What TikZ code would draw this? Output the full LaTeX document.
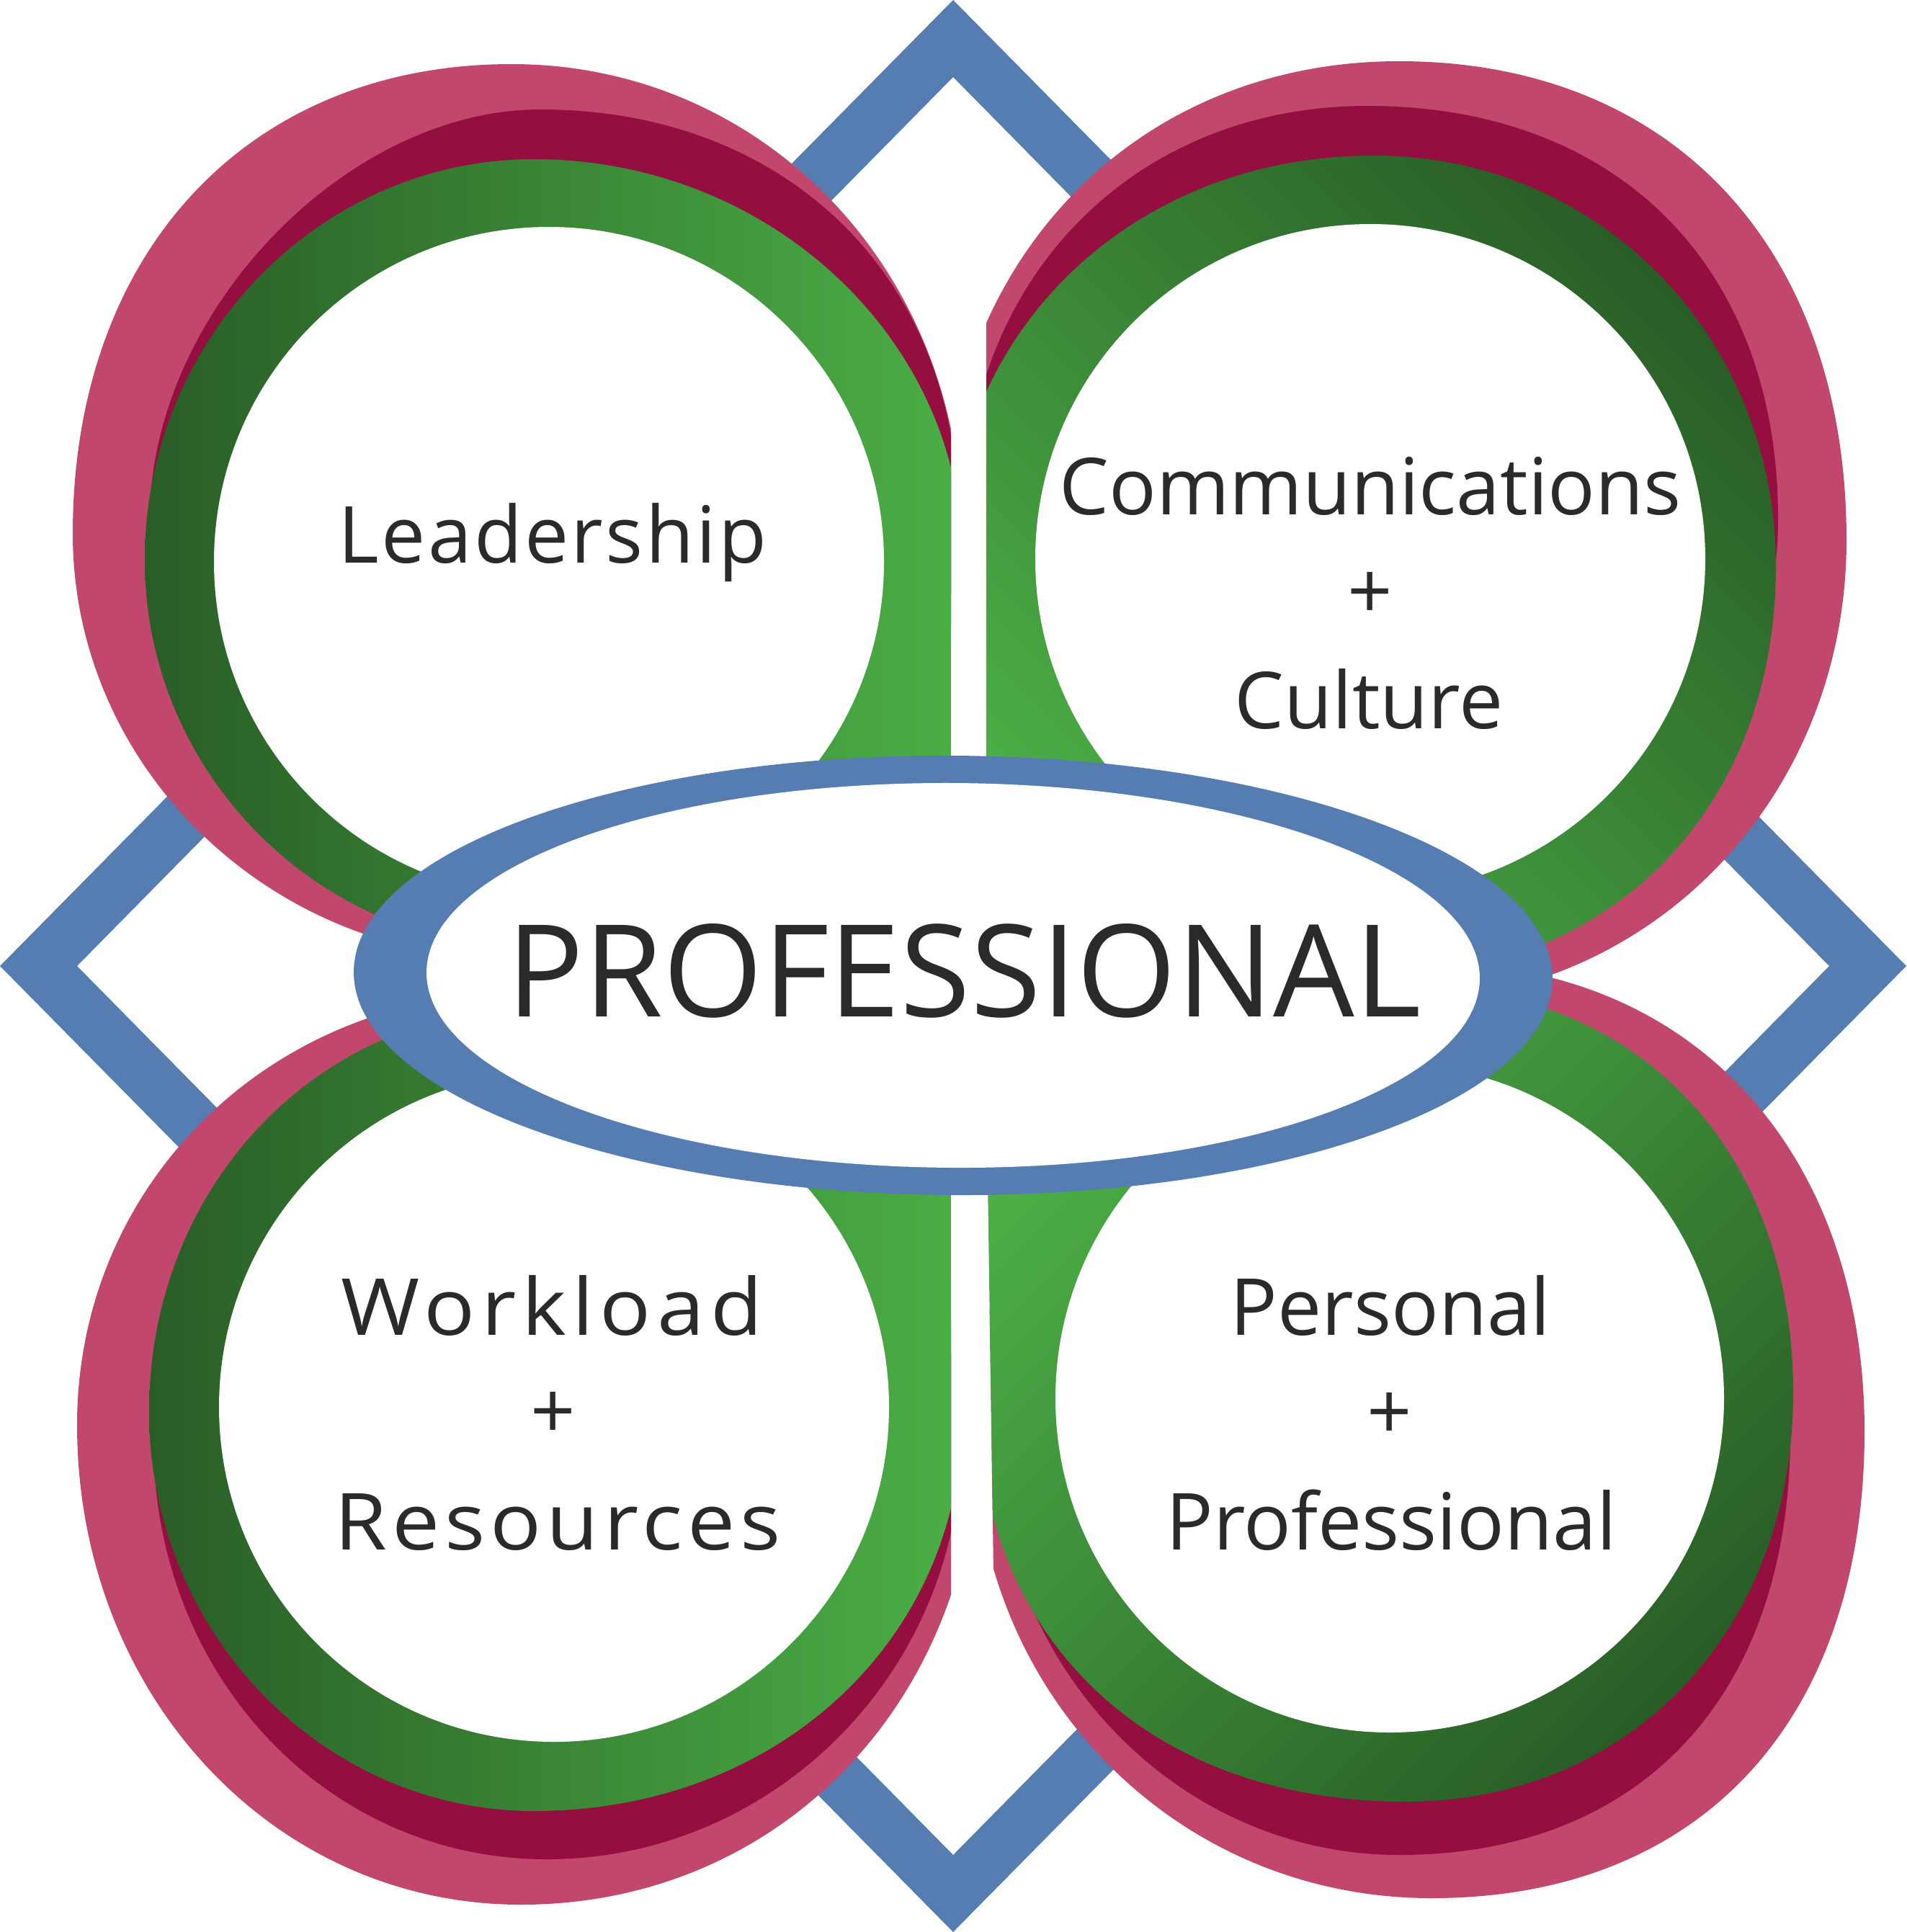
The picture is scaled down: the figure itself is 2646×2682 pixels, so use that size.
\documentclass[tikz,border=0pt]{standalone}
\usepackage{fontspec}
\setmainfont{Open Sans}
\definecolor{dblue}{HTML}{557DB2}
\definecolor{pinkc}{HTML}{C1476C}
\definecolor{crim}{HTML}{940E40}
\definecolor{gdark}{HTML}{295D26}
\definecolor{glight}{HTML}{4BAF46}
\definecolor{txt}{HTML}{2B2A29}
% quadrant-ellipse: centre (#1,#2), extents right #3, top #4, left #5, bottom #6
\newcommand\ks[4]{\def\ka{#1}\def\kb{#2}\def\kc{#3}\def\kd{#4}}
\newcommand\qe[6]{({#1+#3},{#2}) .. controls ({#1+#3},{#2-\ka*#4}) and ({#1+\ka*#3},{#2-#4}) .. ({#1},{#2-#4})
 .. controls ({#1-\kb*#5},{#2-#4}) and ({#1-#5},{#2-\kb*#4}) .. ({#1-#5},{#2})
 .. controls ({#1-#5},{#2+\kc*#6}) and ({#1-\kc*#5},{#2+#6}) .. ({#1},{#2+#6})
 .. controls ({#1+\kd*#3},{#2+#6}) and ({#1+#3},{#2+\kd*#6}) .. ({#1+#3},{#2}) -- cycle}
\begin{document}
\begin{tikzpicture}[x=0.5pt,y=-0.5pt,
  lbl/.style={anchor=base,text=txt,inner sep=0pt,font=\fontsize{54.6}{60}\selectfont},
  big/.style={anchor=base,text=txt,inner sep=0pt,font=\fontsize{89}{96}\selectfont}]
\useasboundingbox (0,0) rectangle (2646,2682);
\fill[white] (0,0) rectangle (2646,2682);
% blue diamond frame
\fill[dblue,even odd rule] (1323,0) -- (2646,1341) -- (1323,2682) -- (0,1341) -- cycle
  (1323,107) -- (2539,1341) -- (1323,2575) -- (107,1341) -- cycle;

% ---------- top-left petal
\begin{scope}
\clip (0,0) rectangle (1320,1400);
\ks{.56}{.6}{.55}{.55}
\fill[pinkc] \qe{710}{741}{625}{652}{609}{590};
\ks{.59}{.5}{.55}{.55}
\fill[crim] \qe{750}{720}{580}{568}{542}{560};
\ks{.55}{.55}{.55}{.55}
\shade[left color=gdark,right color=glight] \qe{741}{777}{595}{556}{540}{540}
  (741,777) -- (741,1360) -- (1320,1360) -- (1320,777) -- cycle;
\fill[white] (762,780) circle[radius=232.5pt];
\end{scope}

% ---------- top-right petal
\begin{scope}
\clip (1369,0) rectangle (2646,1400);
\ks{.61}{.58}{.55}{.56}
\fill[pinkc] \qe{1942}{750}{621}{665}{635}{640};
\ks{.61}{.58}{.55}{.55}
\fill[crim] \qe{1898}{720}{570}{573}{560}{560};
\ks{.56}{.57}{.55}{.59}
\shade[top color=gdark,bottom color=glight,shading angle=-45] \qe{1907}{786}{558}{570}{590}{570}
  (1369,786) -- (1369,1360) -- (1907,1360) -- (1907,786) -- cycle;
\fill[white] (1902,776) circle[radius=232.5pt];
\end{scope}

% ---------- bottom-left petal
\begin{scope}
\clip (0,1300) rectangle (1320,2682);
\ks{.55}{.56}{.56}{.57}
\fill[pinkc] \qe{723}{1978}{635}{600}{616}{666};
\ks{.55}{.55}{.56}{.55}
\fill[crim] \qe{759}{2000}{575}{560}{546}{581};
\ks{.55}{.56}{.55}{.57}
\shade[left color=gdark,right color=glight] \qe{741}{1960}{595}{560}{534}{554}
  (741,1360) -- (741,1960) -- (1320,1960) -- (1320,1360) -- cycle;
\fill[white] (769,1953) circle[radius=232.5pt];
\end{scope}

% ---------- bottom-right petal
\begin{scope}
\clip (1366,1300) -- (1380,2250) -- (1380,2682) -- (2646,2682) -- (2646,1300) -- cycle;
\ks{.6}{.55}{.56}{.62}
\fill[pinkc] \qe{1987}{1987}{601}{650}{635}{648};
\ks{.55}{.55}{.55}{.62}
\fill[crim] \qe{1942}{1990}{543}{560}{560}{585};
\ks{.6}{.55}{.6}{.58}
\shade[top color=glight,bottom color=gdark,shading angle=45] \qe{1951}{1934}{538}{565}{595}{567}
  (1369,1360) -- (1369,1934) -- (1951,1934) -- (1951,1360) -- cycle;
\fill[white] (1929,1941) circle[radius=232pt];
\end{scope}

% ---------- central ellipse
\begin{scope}[rotate around={-0.35:(1323,1354)}]
\fill[dblue] (1323,1354) ellipse[x radius=416pt,y radius=152.5pt];
\fill[white] (1323,1354) ellipse[x radius=365.5pt,y radius=133.5pt];
\end{scope}

% ---------- texts
\node[big] (prof) at (1338,1411) {PROFESSIONAL};
\node[lbl] (lead) at (767,781) {\addfontfeature{LetterSpace=3}Leadership};
\node[lbl] (comm) at (1902,714) {Communications};
\node[lbl] (plus1) at (1902,859) {+};
\node[lbl] (cult) at (1900,1011) {Culture};
\node[lbl] (work) at (766,1853) {\scalebox{1.08}[1]{\addfontfeature{LetterSpace=7}Workload}};
\node[lbl] (plus2) at (768,1997) {+};
\node[lbl] (reso) at (774,2151) {\scalebox{1.08}[1]{\addfontfeature{LetterSpace=6}Resources}};
\node[lbl] (pers) at (1930,1853) {Personal};
\node[lbl] (plus3) at (1929,1998) {+};
\node[lbl] (profl) at (1931,2151) {Professional};
\end{tikzpicture}
\end{document}
